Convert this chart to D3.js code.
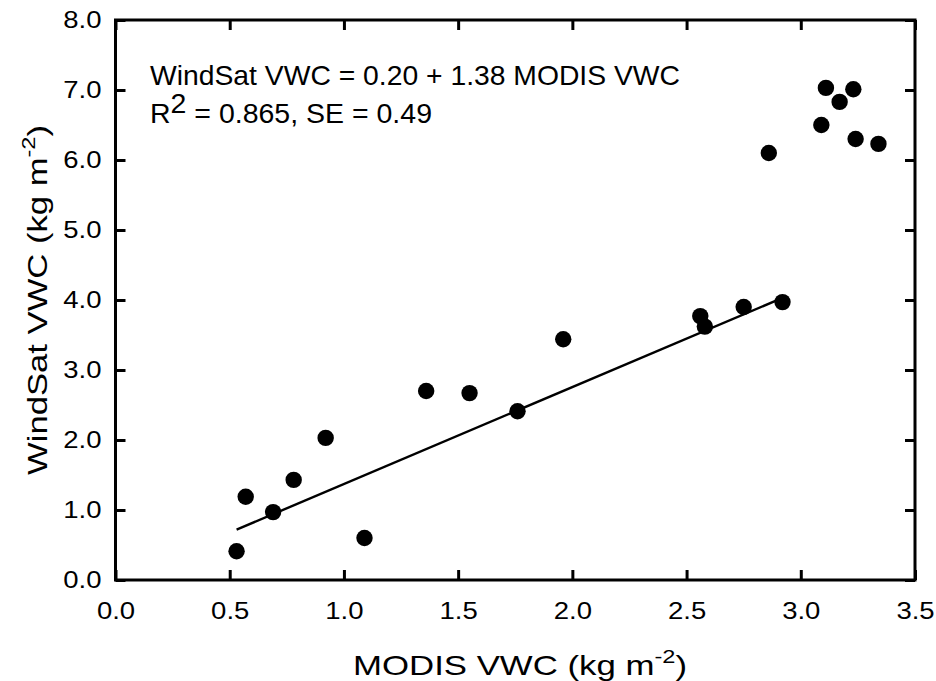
<!DOCTYPE html>
<html><head><meta charset="utf-8">
<script src="https://cdn.jsdelivr.net/npm/d3@7"></script>
<style>body{margin:0;background:#fff}svg{display:block}text{font-family:"Liberation Sans",Arial,sans-serif;fill:#000}</style>
</head><body>
<script>
const modis = [0.53,0.57,0.69,0.78,0.92,1.09,1.36,1.55,1.76,1.96,2.56,2.58,2.75,2.92,2.86,3.09,3.11,3.17,3.23,3.24,3.34];
const windsat = [0.41,1.19,0.97,1.43,2.03,0.60,2.70,2.67,2.41,3.44,3.77,3.62,3.90,3.97,6.10,6.50,7.03,6.83,7.01,6.30,6.23];
const fitX = [0.53, 2.92];
const fitY = [0.72, 4.03];
const xTicks = [0,0.5,1,1.5,2,2.5,3,3.5];
const yTicks = [0,1,2,3,4,5,6,7,8];

const W=936,H=681;
const svg=d3.select("body").append("svg").attr("width",W).attr("height",H);
const x=d3.scaleLinear().domain([0,3.5]).range([115.5,915]);
const y=d3.scaleLinear().domain([0,8]).range([580,20]);

function stretch(sel, f){
  sel.each(function(){
    const len=this.getComputedTextLength();
    d3.select(this).attr("textLength",len*f).attr("lengthAdjust","spacingAndGlyphs");
  });
}
function stretchTo(sel, target){
  sel.each(function(){
    d3.select(this).attr("textLength",target).attr("lengthAdjust","spacingAndGlyphs");
  });
}

// regression line
svg.append("line").attr("x1",x(fitX[0])).attr("y1",y(fitY[0])).attr("x2",x(fitX[1])).attr("y2",y(fitY[1]))
  .attr("stroke","#000").attr("stroke-width",2.4);

// points
svg.append("g").selectAll("circle").data(modis).join("circle")
  .attr("cx",d=>x(d)).attr("cy",(d,i)=>y(windsat[i])).attr("r",8.2).attr("fill","#000");

// axes with inward ticks
const fmt=d3.format(".1f");
const gB=svg.append("g").attr("transform","translate(0,580)")
  .call(d3.axisBottom(x).tickValues(xTicks).tickFormat(fmt).tickSizeInner(-10).tickSizeOuter(0).tickPadding(22));
const gT=svg.append("g").attr("transform","translate(0,20)")
  .call(d3.axisTop(x).tickValues(xTicks).tickFormat("").tickSizeInner(-10).tickSizeOuter(0));
const gL=svg.append("g").attr("transform","translate(115.5,0)")
  .call(d3.axisLeft(y).tickValues(yTicks).tickFormat(fmt).tickSizeInner(-10).tickSizeOuter(0).tickPadding(14));
const gR=svg.append("g").attr("transform","translate(915,0)")
  .call(d3.axisRight(y).tickValues(yTicks).tickFormat("").tickSizeInner(-10).tickSizeOuter(0));
[gB,gT,gL,gR].forEach(g=>{
  g.select(".domain").remove();
  g.selectAll(".tick line").attr("stroke","#000").attr("stroke-width",3);
  g.selectAll(".tick text").attr("font-size",23.5).attr("font-family","'Liberation Sans',Arial,sans-serif").attr("fill","#000");
});
stretch(gB.selectAll(".tick text"),1.17);
stretch(gL.selectAll(".tick text"),1.17);
// frame
svg.append("rect").attr("x",115.5).attr("y",20).attr("width",915-115.5).attr("height",560)
  .attr("fill","none").attr("stroke","#000").attr("stroke-width",3);

// annotation
const a1=svg.append("text").attr("x",150).attr("y",85).attr("font-size",27.5).text("WindSat VWC = 0.20 + 1.38 MODIS VWC");
stretchTo(a1,530);
const t2=svg.append("text").attr("x",150).attr("y",123).attr("font-size",27.5);
t2.append("tspan").text("R");
t2.append("tspan").attr("dy",-10).text("2");
t2.append("tspan").attr("dy",10).text(" = 0.865, SE = 0.49");
stretchTo(t2,282);

// x title
const xt=svg.append("text").attr("x",520).attr("y",675).attr("text-anchor","middle").attr("font-size",28);
xt.append("tspan").text("MODIS VWC (kg m");
xt.append("tspan").attr("dy",-12).attr("font-size",19).text("-2");
xt.append("tspan").attr("dy",12).text(")");
stretchTo(xt,334);

// y title
const yt=svg.append("text").attr("transform","translate(47,300) rotate(-90)").attr("text-anchor","middle").attr("font-size",28);
yt.append("tspan").text("WindSat VWC (kg m");
yt.append("tspan").attr("dy",-12).attr("font-size",19).text("-2");
yt.append("tspan").attr("dy",12).text(")");
stretchTo(yt,350);
</script>
</body></html>
